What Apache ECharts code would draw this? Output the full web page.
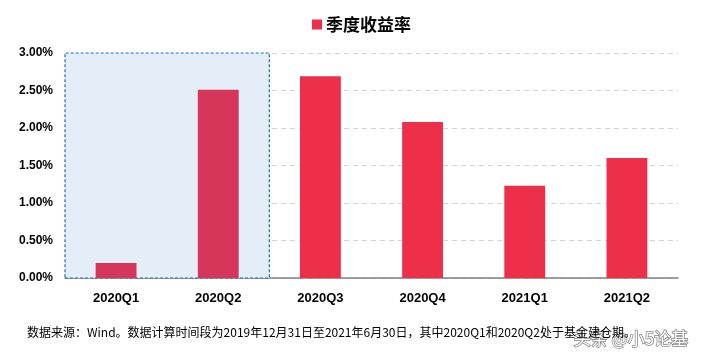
<!DOCTYPE html>
<html>
<head>
<meta charset="utf-8">
<script src="https://cdn.jsdelivr.net/npm/echarts@6/dist/echarts.min.js"></script>
<style>html,body{margin:0;padding:0;background:#fff}#c{width:705px;height:361px}</style>
</head>
<body>
<div id="c"></div>
<script>
var categories = ['2020Q1','2020Q2','2020Q3','2020Q4','2021Q1','2021Q2'];
var returns = [0.20, 2.51, 2.69, 2.08, 1.23, 1.60];
var seriesName = '季度收益率';
var yTicks = {min: 0, max: 3, interval: 0.5};
var highlightRange = [0, 2];
var footnote = '数据来源：Wind。数据计算时间段为2019年12月31日至2021年6月30日，其中2020Q1和2020Q2处于基金建仓期。';
var watermark = '头条 @小5论基';

var barData = returns.map(function(v, i){
  var inHl = i >= highlightRange[0] && i < highlightRange[1];
  return inHl ? {value: v, itemStyle: {color: '#D6365A'}} : v;
});

var chart = echarts.init(document.getElementById('c'));
chart.setOption({
  animation: false,
  backgroundColor: '#fff',
  title: {
    text: footnote, left: 22, top: 321,
    textStyle: {fontSize: 12, fontWeight: 'normal', color: '#000', fontFamily: 'Noto Sans CJK SC'}
  },
  legend: {
    data: [seriesName], top: 11, left: 307,
    itemWidth: 10, itemHeight: 10, icon: 'rect',
    textStyle: {fontSize: 17, fontWeight: 'bold', color: '#000', fontFamily: 'Noto Sans CJK SC', padding: [0, 0, 0, -1]}
  },
  grid: {left: 65, right: 27, top: 53, bottom: 83},
  xAxis: [{
    type: 'category', data: categories,
    axisLine: {lineStyle: {color: '#808080', width: 1.5}},
    axisTick: {inside: true, length: 5, lineStyle: {color: '#808080'}},
    axisLabel: {fontSize: 13, fontWeight: 'bold', color: '#000', margin: 14, fontFamily: 'Liberation Sans'}
  }, {
    type: 'value', min: 0, max: categories.length, show: false
  }],
  yAxis: {
    type: 'value', min: yTicks.min, max: yTicks.max, interval: yTicks.interval,
    axisLine: {show: false}, axisTick: {show: false},
    splitLine: {lineStyle: {color: '#D3D3D3', type: [5, 4], width: 1.2}},
    axisLabel: {formatter: function(v){return v.toFixed(2) + '%';}, fontSize: 12, fontWeight: 'bold', color: '#000', margin: 12, fontFamily: 'Liberation Sans'}
  },
  series: [{
    type: 'line', xAxisIndex: 1, data: [], silent: true,
    markArea: {
      silent: true,
      itemStyle: {color: '#E4EEF8', borderColor: '#1F6FB5', borderWidth: 1.2, borderType: [3, 2]},
      data: [[{xAxis: highlightRange[0]}, {xAxis: highlightRange[1]}]]
    }
  }, {
    name: seriesName, type: 'bar', data: barData, barWidth: '40%',
    itemStyle: {color: '#EE2F4A'}
  }],
  graphic: [{
    type: 'text', left: 573, top: 329,
    style: {text: watermark, fontSize: 17, fill: '#fff', stroke: '#888', lineWidth: 1.5, fontFamily: 'Noto Sans CJK SC'}
  }]
});
</script>
</body>
</html>
